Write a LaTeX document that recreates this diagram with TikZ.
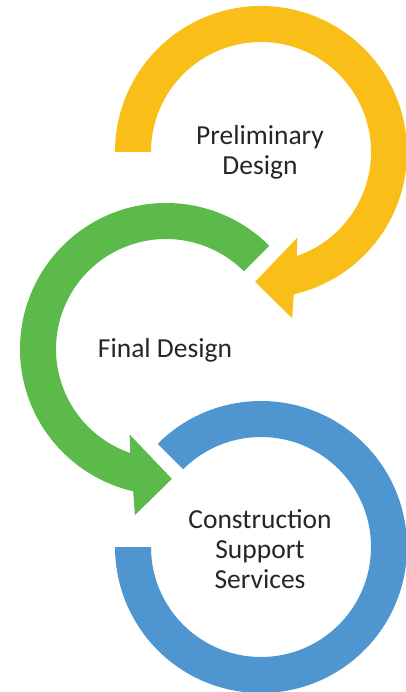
\documentclass[tikz,border=0pt]{standalone}
\usepackage{fontspec}
\setmainfont{Carlito}
\usepackage{tikz}

\definecolor{stageyellow}{RGB}{250,190,24}
\definecolor{stagegreen}{RGB}{91,186,74}
\definecolor{stageblue}{RGB}{79,150,208}

\tikzset{
  stagetext/.style={align=center, text=black!85, font=\fontsize{27.5}{30}\selectfont},
}

\begin{document}
\begin{tikzpicture}[x=1pt, y=1pt]
    \useasboundingbox (0,0) rectangle (406,-692);

    % first stage, arrow into the second
    \begin{scope}[shift={(261,-152)}]
    \fill[stageyellow] (180:146) arc[start angle=180, end angle=-77, radius=146]
        -- (-79.4:169) -- (-92.6:130) -- (-67:93) -- (-71:110)
        arc[start angle=-71, end angle=180, radius=110] -- cycle;
    \end{scope}

    % second stage, arrow into the third
    \begin{scope}[shift={(166,-349)}]
    \fill[stagegreen] (45:146) arc[start angle=45, end angle=257, radius=146]
        -- (259.4:169) -- (272.6:130) -- (247:93) -- (251:110)
        arc[start angle=251, end angle=45, radius=110] -- cycle;
    \end{scope}

    % last stage, open ring
    \begin{scope}[shift={(261,-547)}]
    \fill[stageblue] (135:146) arc[start angle=135, end angle=-180, radius=146]
        -- (180:110) arc[start angle=-180, end angle=135, radius=110] -- cycle;
    \end{scope}

    \node[stagetext] (prelim) at (260,-152) {Preliminary\\Design};
    \node[stagetext] (final) at (165,-350) {Final Design};
    \node[stagetext] (support) at (260,-549) {Construction\\Support\\Services};
\end{tikzpicture}
\end{document}
